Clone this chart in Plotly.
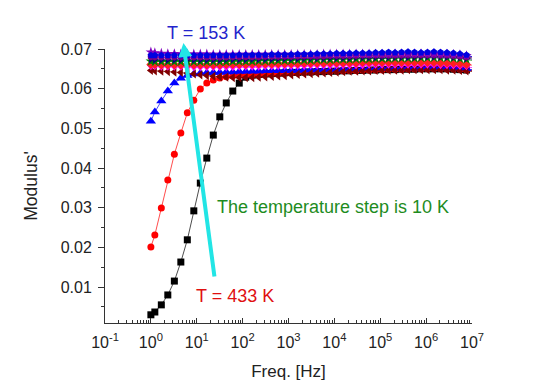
import plotly.graph_objects as go

# Frequency grid [Hz]
freq = [1.0, 1.22, 1.69, 2.34, 3.25, 4.50, 6.23, 8.63, 11.96, 16.56,
        22.94, 31.8, 44.0, 61.0, 84.4, 117, 162, 224, 311, 431,
        596, 826, 1144, 1585, 2196, 3041, 4212, 5834, 8080, 11190,
        15500, 21480, 29750, 41210, 57080, 79070, 109500, 151700, 210100, 291100,
        403200, 558500, 773600, 1.07e6, 1.48e6, 2.06e6, 2.85e6, 3.94e6, 5.46e6, 7.57e6,
        1.05e7]

m_433 = [0.0030, 0.0037, 0.0055, 0.0080, 0.0115, 0.0163, 0.0219, 0.0292, 0.0362, 0.0425,
         0.0483, 0.0529, 0.0564, 0.0594, 0.0614, 0.0629, 0.0634, 0.0636, 0.0637, 0.0638,
         0.0639, 0.0640, 0.0641, 0.0641, 0.0642, 0.0642, 0.0643, 0.0643, 0.0644, 0.0644,
         0.0645, 0.0645, 0.0646, 0.0646, 0.0647, 0.0647, 0.0648, 0.0648, 0.0648, 0.0649,
         0.0649, 0.0649, 0.0650, 0.0650, 0.0650, 0.0650, 0.0650, 0.0649, 0.0648, 0.0647,
         0.0645]
m_423 = [0.0201, 0.0231, 0.0299, 0.0370, 0.0435, 0.0488, 0.0539, 0.0571, 0.0599, 0.0614,
         0.0622, 0.0627, 0.0630, 0.0632, 0.0633, 0.0634, 0.0635, 0.0636, 0.0637, 0.0638,
         0.0639, 0.0640, 0.0640, 0.0641, 0.0642, 0.0642, 0.0643, 0.0644, 0.0644, 0.0645,
         0.0645, 0.0646, 0.0646, 0.0647, 0.0647, 0.0648, 0.0648, 0.0649, 0.0649, 0.0649,
         0.0650, 0.0650, 0.0650, 0.0651, 0.0651, 0.0651, 0.0650, 0.0650, 0.0649, 0.0648,
         0.0646]
m_413 = [0.0518, 0.0541, 0.0569, 0.0594, 0.0614, 0.0626, 0.0633, 0.0637, 0.0639, 0.0640,
         0.0641, 0.0641, 0.0642, 0.0642, 0.0643, 0.0643, 0.0644, 0.0644, 0.0645, 0.0645,
         0.0645, 0.0646, 0.0646, 0.0646, 0.0647, 0.0647, 0.0647, 0.0648, 0.0648, 0.0648,
         0.0649, 0.0649, 0.0649, 0.0650, 0.0650, 0.0650, 0.0651, 0.0651, 0.0651, 0.0652,
         0.0652, 0.0652, 0.0652, 0.0653, 0.0653, 0.0653, 0.0652, 0.0652, 0.0651, 0.0650,
         0.0648]
m_403 = [0.0646, 0.0645, 0.0644, 0.0643, 0.0642, 0.0641, 0.0639, 0.0637, 0.0635, 0.0633,
         0.0631, 0.0630, 0.0629, 0.0628, 0.0628, 0.0628, 0.0628, 0.0629, 0.0630, 0.0631,
         0.0632, 0.0633, 0.0635, 0.0636, 0.0637, 0.0638, 0.0639, 0.0640, 0.0641, 0.0642,
         0.0643, 0.0644, 0.0644, 0.0645, 0.0645, 0.0646, 0.0646, 0.0647, 0.0647, 0.0647,
         0.0648, 0.0648, 0.0648, 0.0648, 0.0648, 0.0648, 0.0647, 0.0647, 0.0646, 0.0645,
         0.0643]
m_393 = [0.0655, 0.0655, 0.0654, 0.0654, 0.0654, 0.0654, 0.0653, 0.0653, 0.0653, 0.0653,
         0.0653, 0.0653, 0.0653, 0.0653, 0.0654, 0.0654, 0.0654, 0.0654, 0.0655, 0.0655,
         0.0655, 0.0656, 0.0656, 0.0656, 0.0656, 0.0657, 0.0657, 0.0657, 0.0657, 0.0658,
         0.0658, 0.0658, 0.0658, 0.0658, 0.0659, 0.0659, 0.0659, 0.0659, 0.0659, 0.0659,
         0.0659, 0.0659, 0.0659, 0.0659, 0.0659, 0.0658, 0.0658, 0.0657, 0.0656, 0.0655,
         0.0653]
m_383 = [0.0661, 0.0661, 0.0660, 0.0660, 0.0660, 0.0660, 0.0660, 0.0660, 0.0660, 0.0660,
         0.0660, 0.0660, 0.0661, 0.0661, 0.0661, 0.0661, 0.0662, 0.0662, 0.0662, 0.0662,
         0.0663, 0.0663, 0.0663, 0.0663, 0.0664, 0.0664, 0.0664, 0.0664, 0.0665, 0.0665,
         0.0665, 0.0665, 0.0665, 0.0666, 0.0666, 0.0666, 0.0666, 0.0666, 0.0666, 0.0666,
         0.0666, 0.0666, 0.0666, 0.0666, 0.0666, 0.0665, 0.0665, 0.0664, 0.0663, 0.0661,
         0.0659]
m_373 = [0.0669, 0.0668, 0.0668, 0.0668, 0.0668, 0.0668, 0.0668, 0.0668, 0.0668, 0.0668,
         0.0668, 0.0668, 0.0668, 0.0669, 0.0669, 0.0669, 0.0669, 0.0670, 0.0670, 0.0670,
         0.0671, 0.0671, 0.0671, 0.0672, 0.0672, 0.0672, 0.0673, 0.0673, 0.0673, 0.0674,
         0.0674, 0.0674, 0.0675, 0.0675, 0.0675, 0.0676, 0.0676, 0.0676, 0.0677, 0.0677,
         0.0677, 0.0677, 0.0678, 0.0678, 0.0678, 0.0678, 0.0678, 0.0677, 0.0676, 0.0674,
         0.0671]
m_363 = [0.0674, 0.0673, 0.0673, 0.0673, 0.0673, 0.0673, 0.0673, 0.0673, 0.0673, 0.0673,
         0.0673, 0.0673, 0.0674, 0.0674, 0.0674, 0.0674, 0.0675, 0.0675, 0.0675, 0.0675,
         0.0676, 0.0676, 0.0676, 0.0676, 0.0677, 0.0677, 0.0677, 0.0677, 0.0678, 0.0678,
         0.0678, 0.0678, 0.0679, 0.0679, 0.0679, 0.0679, 0.0680, 0.0680, 0.0680, 0.0680,
         0.0680, 0.0680, 0.0681, 0.0681, 0.0681, 0.0681, 0.0680, 0.0680, 0.0679, 0.0677,
         0.0674]
m_353 = [0.0680, 0.0679, 0.0679, 0.0679, 0.0679, 0.0679, 0.0679, 0.0679, 0.0679, 0.0679,
         0.0679, 0.0679, 0.0679, 0.0680, 0.0680, 0.0680, 0.0680, 0.0680, 0.0681, 0.0681,
         0.0681, 0.0681, 0.0681, 0.0682, 0.0682, 0.0682, 0.0682, 0.0682, 0.0683, 0.0683,
         0.0683, 0.0683, 0.0683, 0.0684, 0.0684, 0.0684, 0.0684, 0.0684, 0.0684, 0.0684,
         0.0685, 0.0685, 0.0685, 0.0685, 0.0685, 0.0684, 0.0684, 0.0683, 0.0682, 0.0680,
         0.0677]
m_343 = [0.0692, 0.0690, 0.0689, 0.0688, 0.0688, 0.0687, 0.0687, 0.0687, 0.0687, 0.0687,
         0.0686, 0.0686, 0.0686, 0.0686, 0.0686, 0.0686, 0.0686, 0.0686, 0.0686, 0.0686,
         0.0686, 0.0686, 0.0686, 0.0686, 0.0686, 0.0686, 0.0686, 0.0687, 0.0687, 0.0687,
         0.0687, 0.0687, 0.0687, 0.0687, 0.0687, 0.0687, 0.0687, 0.0687, 0.0688, 0.0688,
         0.0688, 0.0688, 0.0688, 0.0688, 0.0688, 0.0687, 0.0687, 0.0686, 0.0685, 0.0683,
         0.0680]
m_333 = [0.0684, 0.0684, 0.0684, 0.0684, 0.0684, 0.0684, 0.0684, 0.0684, 0.0684, 0.0684,
         0.0684, 0.0684, 0.0684, 0.0684, 0.0685, 0.0685, 0.0685, 0.0685, 0.0685, 0.0686,
         0.0686, 0.0686, 0.0686, 0.0687, 0.0687, 0.0687, 0.0688, 0.0688, 0.0688, 0.0689,
         0.0689, 0.0689, 0.0690, 0.0690, 0.0690, 0.0691, 0.0691, 0.0692, 0.0691, 0.0692,
         0.0693, 0.0692, 0.0691, 0.0692, 0.0693, 0.0692, 0.0691, 0.0690, 0.0688, 0.0685,
         0.0680]

series = [
    ("433 K", m_433, "#000000", "square", 7),
    ("423 K", m_423, "#FF0000", "circle", 7),
    ("413 K", m_413, "#0000FF", "triangle-up", 9),
    ("403 K", m_403, "#800000", "triangle-left", 8),
    ("393 K", m_393, "#FF00FF", "triangle-down", 7),
    ("383 K", m_383, "#FF2020", "diamond", 7),
    ("373 K", m_373, "#008000", "star", 8),
    ("363 K", m_363, "#000080", "triangle-right", 7),
    ("353 K", m_353, "#800080", "hexagon", 7),
    ("343 K", m_343, "#8000C0", "star", 8),
    ("333 K", m_333, "#0000E0", "pentagon", 7),
]

xtick_vals = [0.1, 1, 10, 100, 1e3, 1e4, 1e5, 1e6, 1e7]
xtick_text = ["10<sup>-1</sup>", "10<sup>0</sup>", "10<sup>1</sup>", "10<sup>2</sup>",
              "10<sup>3</sup>", "10<sup>4</sup>", "10<sup>5</sup>", "10<sup>6</sup>",
              "10<sup>7</sup>"]

fig = go.Figure()
for name, vals, col, sym, sz in series:
    fig.add_trace(go.Scatter(
        x=freq, y=vals, mode="lines+markers", name=name,
        line=dict(color=col, width=0.7),
        marker=dict(color=col, symbol=sym, size=sz, line=dict(width=0)),
        cliponaxis=False, showlegend=False))

font_main = "Liberation Sans, Arial, sans-serif"

fig.update_layout(
    width=542, height=383,
    margin=dict(l=105, r=70, t=49, b=60),
    paper_bgcolor="white", plot_bgcolor="white",
    font=dict(family=font_main, size=16, color="#222222"),
    xaxis=dict(
        type="log", range=[-1, 7], automargin=False,
        tickmode="array", tickvals=xtick_vals, ticktext=xtick_text,
        ticks="inside", ticklen=5, tickcolor="#333", tickwidth=1,
        showline=True, linecolor="#333", linewidth=1, mirror=False,
        showgrid=False, zeroline=False,
        minor=dict(ticks="inside", ticklen=3, tickcolor="#333", dtick="D1", showgrid=False),
        tickfont=dict(size=16, color="#222"),
        ticklabelstandoff=5,
        title=dict(text="Freq. [Hz]", font=dict(size=17, color="#222"), standoff=14),
    ),
    yaxis=dict(
        range=[0.00093, 0.0700], automargin=False,
        tick0=0, dtick=0.01, tickformat=".2f",
        ticks="outside", ticklen=6, tickcolor="#333", tickwidth=1,
        showline=True, linecolor="#333", linewidth=1, mirror=False,
        showgrid=False, zeroline=False,
        minor=dict(ticks="outside", ticklen=3, tickcolor="#333", dtick=0.005, tick0=0, showgrid=False),
        tickfont=dict(size=16, color="#222"),
        ticklabelstandoff=3,
        title=dict(text="Modulus'", font=dict(size=17.5, color="#222"), standoff=18),
    ),
)

# Cyan arrow from T = 433 K towards T = 153 K
fig.add_annotation(x=0.71, y=0.0715, xref="x", yref="y",
                   ax=1.39, ay=0.0123, axref="x", ayref="y",
                   showarrow=True, arrowhead=2, arrowsize=0.7, arrowwidth=4,
                   arrowcolor="#22E5E5", text="")

fig.add_annotation(x=0.30, y=1.058, xref="x", yref="paper", text="T = 153 K",
                   showarrow=False, font=dict(size=18, color="#2424CC", family=font_main),
                   xanchor="left", yanchor="middle")
fig.add_annotation(x=0.937, y=0.0077, xref="x", yref="y", text="T = 433 K",
                   showarrow=False, font=dict(size=18, color="#E01010", family=font_main),
                   xanchor="left", yanchor="middle")
fig.add_annotation(x=1.394, y=0.0302, xref="x", yref="y", text="The temperature step is 10 K",
                   showarrow=False, font=dict(size=18, color="#1E8C1E", family=font_main),
                   xanchor="left", yanchor="middle")

fig.write_html("out.html")
